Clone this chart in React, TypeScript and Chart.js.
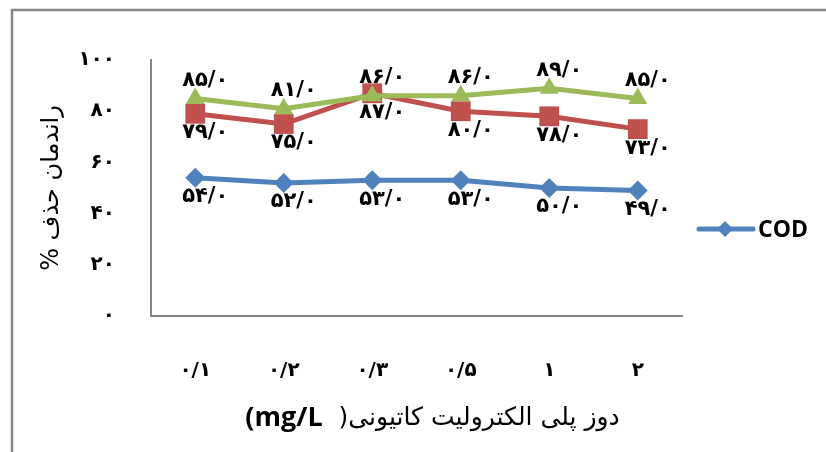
import React, { useEffect, useRef } from 'react';
import { Chart, registerables } from 'chart.js';

Chart.register(...registerables);

// ---- data ----
const categories = ['۰/۱', '۰/۲', '۰/۳', '۰/۵', '۱', '۲'];
const codValues = [54, 52, 53, 53, 50, 49];
const series2Values = [79, 75, 87, 80, 78, 73];
const series3Values = [85, 81, 86, 86, 89, 85];
const yTickLabels = ['۰', '۲۰', '۴۰', '۶۰', '۸۰', '۱۰۰'];
const seriesNames = ['COD', 'Series 2', 'Series 3'];
const yTitle = 'راندمان حذف %\u200F';
const xTitleBold = '(mg/L';
const xTitleText = '  )دوز پلی الکترولیت کاتیونی';

const BLUE = '#4F81BD';
const RED = '#C0504D';
const GREEN = '#9BBB59';
const AXIS = '#868686';
const FA = 'DejaVu Sans';

const faDigits = '۰۱۲۳۴۵۶۷۸۹';
const toFa = (n: number) => String(n).replace(/\d/g, (d) => faDigits[+d]);

const framePlugin = {
  id: 'frame',
  beforeDraw(chart: any) {
    const ctx = chart.ctx;
    ctx.save();
    ctx.fillStyle = '#fff';
    ctx.fillRect(0, 0, chart.width, chart.height);
    ctx.strokeStyle = AXIS;
    ctx.lineWidth = 2.5;
    ctx.beginPath();
    ctx.moveTo(12, chart.height + 5);
    ctx.lineTo(12, 10);
    ctx.lineTo(chart.width + 5, 10);
    ctx.stroke();
    ctx.restore();
  },
};

const valueLabelPlugin = {
  id: 'valueLabels',
  afterDatasetsDraw(chart: any) {
    const ctx = chart.ctx;
    ctx.save();
    ctx.font = `bold 21px "${FA}"`;
    ctx.fillStyle = '#000';
    ctx.textAlign = 'center';
    ctx.textBaseline = 'middle';
    chart.data.datasets.forEach((ds: any, di: number) => {
      const meta = chart.getDatasetMeta(di);
      meta.data.forEach((pt: any, i: number) => {
        const v = ds.data[i];
        const dy = ds.labelPos === 'above' ? -18 : 19;
        ctx.fillText(toFa(v) + '/۰', pt.x + 10, pt.y + dy);
      });
    });
    ctx.restore();
  },
};

const legendAndTitlePlugin = {
  id: 'legendTitle',
  afterDraw(chart: any) {
    const ctx = chart.ctx;
    const { left, right, top, bottom } = chart.chartArea;
    ctx.save();
    // legend (COD only)
    const ds = chart.data.datasets[0];
    const ly = top + 169;
    ctx.strokeStyle = ds.borderColor;
    ctx.lineWidth = 5;
    ctx.lineCap = 'round';
    ctx.beginPath();
    ctx.moveTo(right + 17, ly);
    ctx.lineTo(right + 71, ly);
    ctx.stroke();
    const cx = right + 43;
    const r = 8;
    ctx.fillStyle = ds.backgroundColor;
    ctx.beginPath();
    ctx.moveTo(cx - r, ly);
    ctx.lineTo(cx, ly - r);
    ctx.lineTo(cx + r, ly);
    ctx.lineTo(cx, ly + r);
    ctx.closePath();
    ctx.fill();
    ctx.fillStyle = '#000';
    ctx.font = 'bold 23px "Open Sans"';
    ctx.textAlign = 'left';
    ctx.textBaseline = 'middle';
    ctx.fillText(ds.label, right + 76, ly + 1);

    // x-axis title (mixed weight)
    ctx.direction = 'ltr';
    const boldFont = 'bold 27px "Open Sans"';
    const normFont = `25px "${FA}"`;
    ctx.font = boldFont;
    const w1 = ctx.measureText(xTitleBold).width;
    ctx.font = normFont;
    const w2 = ctx.measureText(xTitleText).width;
    const center = (left + right) / 2 + 16;
    const x0 = center - (w1 + w2) / 2;
    const ty = bottom + 102;
    ctx.textAlign = 'left';
    ctx.font = boldFont;
    ctx.fillText(xTitleBold, x0, ty);
    ctx.font = normFont;
    ctx.fillText(xTitleText, x0 + w1, ty);
    ctx.restore();
  },
};

export default function App() {
  const ref = useRef<HTMLCanvasElement | null>(null);

  useEffect(() => {
    if (!ref.current) return;
    const chart = new Chart(ref.current, {
      type: 'line',
      data: {
        labels: categories,
        datasets: [
          {
            label: seriesNames[0],
            data: codValues,
            borderColor: BLUE,
            backgroundColor: BLUE,
            pointBackgroundColor: BLUE,
            pointBorderColor: BLUE,
            pointStyle: 'rectRot',
            pointRadius: 10,
            pointBorderWidth: 0,
            borderWidth: 5,
            tension: 0,
            order: 2,
            labelPos: 'below',
          } as any,
          {
            label: seriesNames[1],
            data: series2Values,
            borderColor: RED,
            backgroundColor: RED,
            pointBackgroundColor: RED,
            pointBorderColor: RED,
            pointStyle: 'rect',
            pointRadius: 14,
            pointBorderWidth: 0,
            borderWidth: 5,
            tension: 0,
            order: 1,
            labelPos: 'below',
          } as any,
          {
            label: seriesNames[2],
            data: series3Values,
            borderColor: GREEN,
            backgroundColor: GREEN,
            pointBackgroundColor: GREEN,
            pointBorderColor: GREEN,
            pointStyle: 'triangle',
            pointRadius: 11,
            pointBorderWidth: 0,
            borderWidth: 5,
            tension: 0,
            order: 0,
            labelPos: 'above',
          } as any,
        ],
      },
      options: {
        responsive: false,
        animation: false,
        events: [],
        layout: { padding: { left: 0, top: 60, right: 144, bottom: 0 } },
        plugins: {
          legend: { display: false },
          tooltip: { enabled: false },
          title: { display: false },
        },
        scales: {
          x: {
            offset: true,
            grid: { display: false, drawTicks: false },
            border: { display: true, color: AXIS, width: 2 },
            ticks: {
              color: '#000',
              font: { family: FA, size: 20, weight: 'bold' },
              padding: 43,
              maxRotation: 0,
            },
            afterFit: (s: any) => {
              s.height = 136;
            },
          },
          y: {
            min: 0,
            max: 100,
            grid: { display: false, drawTicks: false },
            border: { display: true, color: AXIS, width: 2 },
            ticks: {
              stepSize: 20,
              color: '#000',
              font: { family: FA, size: 20, weight: 'bold' },
              padding: 36,
              callback: (v: any) => yTickLabels[Math.round(Number(v) / 20)],
            },
            title: {
              display: true,
              text: yTitle,
              color: '#000',
              font: { family: FA, size: 24 },
              padding: { top: 37, bottom: 0 },
            },
            afterFit: (s: any) => {
              s.width = 151;
            },
          },
        },
      } as any,
      plugins: [framePlugin, valueLabelPlugin, legendAndTitlePlugin],
    });
    return () => chart.destroy();
  }, []);

  return (
    <div style={{ position: 'fixed', left: 0, top: 0, width: 826, height: 452, background: '#fff' }}>
      <canvas ref={ref} width={826} height={452} style={{ display: 'block' }} />
    </div>
  );
}
